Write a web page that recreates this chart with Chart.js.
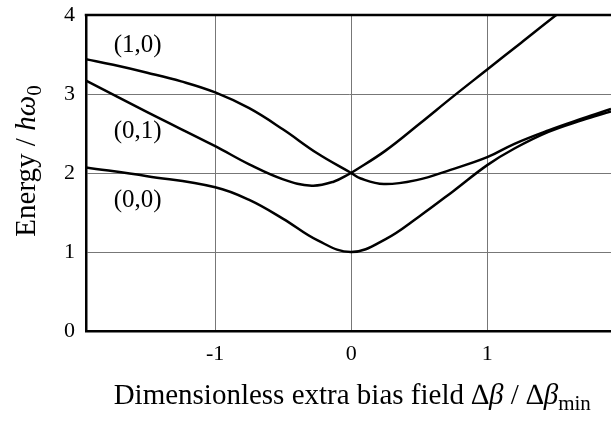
<!DOCTYPE html>
<html>
<head>
<meta charset="utf-8">
<script src="https://cdn.jsdelivr.net/npm/chart.js@4.4.1/dist/chart.umd.min.js"></script>
<style>
  html, body { margin: 0; padding: 0; background: #fff; overflow: hidden; }
  #wrap { width: 611px; height: 423px; }
</style>
</head>
<body>
<div id="wrap"><canvas id="c" width="611" height="423"></canvas></div>
<script>
'use strict';
/* Energy levels vs. extra bias field — three lowest states (0,0), (0,1), (1,0). */

const SERIF = '"Liberation Serif","Times New Roman",serif';

// x axis: dimensionless extra bias field, y: energy / hω0
const xTicks = [-1, 0, 1];
const yTicks = [0, 1, 2, 3, 4];

// (0,0) ground state
const x00 = [-1.95, -1.5, -1.0, -0.75, -0.5, -0.25, 0, 0.25, 0.5, 0.75, 1.0, 1.2, 1.45, 1.7, 1.91];
const e00 = [2.07, 1.96, 1.82, 1.66, 1.42, 1.15, 1.0, 1.16, 1.45, 1.77, 2.1, 2.31, 2.52, 2.67, 2.78];

// (0,1) — peaked at the degeneracy point (x=0 twice so the kink stays sharp)
const x01 = [-1.95, -1.5, -1.0, -0.75, -0.5, -0.29, -0.13, 0, 0, 0.07, 0.24, 0.48, 0.73, 1.0, 1.2, 1.45, 1.7, 1.91];
const e01 = [3.17, 2.77, 2.34, 2.11, 1.92, 1.84, 1.89, 2.0, 2.0, 1.93, 1.86, 1.91, 2.04, 2.2, 2.37, 2.54, 2.69, 2.81];

// (1,0)
const x10 = [-1.95, -1.75, -1.5, -1.25, -1.0, -0.75, -0.5, -0.25, 0, 0, 0.25, 0.5, 0.75, 1.0, 1.25, 1.5, 1.75, 1.91];
const e10 = [3.44, 3.37, 3.27, 3.16, 3.02, 2.82, 2.55, 2.25, 2.0, 2.0, 2.28, 2.62, 2.97, 3.31, 3.65, 3.99, 4.32, 4.53];

// state labels and where they sit (data coords)
const stateNames = ['(1,0)', '(0,1)', '(0,0)'];
const stateLabelX = [-1.57, -1.57, -1.57];
const stateLabelY = [3.62, 2.53, 1.65];

const pts = (xs, ys) => xs.map((x, i) => ({ x, y: ys[i] }));

function line(xs, ys) {
  return { data: pts(xs, ys), borderColor: '#000', borderWidth: 2.5, pointRadius: 0, tension: 0.4, fill: false };
}

// draws the top frame line, state labels and both axis titles (with sub/italic parts)
const decor = {
  id: 'decor',
  afterDraw(chart) {
    const { ctx, chartArea: a, scales: { x, y } } = chart;
    ctx.save();
    ctx.strokeStyle = '#000';
    ctx.lineWidth = 2.5;
    ctx.beginPath();
    ctx.moveTo(a.left - 1.25, a.top);
    ctx.lineTo(a.right, a.top);
    ctx.stroke();

    ctx.fillStyle = '#000';
    ctx.font = `25px ${SERIF}`;
    ctx.textAlign = 'center';
    ctx.textBaseline = 'middle';
    stateNames.forEach((s, i) => ctx.fillText(s, x.getPixelForValue(stateLabelX[i]), y.getPixelForValue(stateLabelY[i])));

    // x title: run of [text, font, dy]
    const big = `29px ${SERIF}`, it = `italic 29px ${SERIF}`, sub = `21px ${SERIF}`;
    const xRuns = [
      ['Dimensionless extra bias field ', big, 0],
      ['\u2206', big, 0], ['\u03b2', it, 0], [' / ', big, 0],
      ['\u2206', big, 0], ['\u03b2', it, 0], ['min', sub, 6],
    ];
    drawRuns(ctx, xRuns, x.getPixelForValue(0) + 1, 404);

    ctx.translate(35, 161);
    ctx.rotate(-Math.PI / 2);
    const yRuns = [['Energy / ', big, 0], ['h\u03c9', it, 0], ['0', sub, 6]];
    drawRuns(ctx, yRuns, 0, 0);
    ctx.restore();
  },
};

function drawRuns(ctx, runs, cx, baseY) {
  ctx.textAlign = 'left';
  ctx.textBaseline = 'alphabetic';
  let w = 0;
  runs.forEach(r => { ctx.font = r[1]; w += ctx.measureText(r[0]).width; });
  let px = cx - w / 2;
  runs.forEach(r => {
    ctx.font = r[1];
    ctx.fillText(r[0], px, baseY + r[2]);
    px += ctx.measureText(r[0]).width;
  });
}

const tickFont = { family: SERIF, size: 22 };

new Chart(document.getElementById('c'), {
  type: 'line',
  data: { datasets: [line(x10, e10), line(x01, e01), line(x00, e00)] },
  plugins: [decor],
  options: {
    responsive: false,
    animation: false,
    devicePixelRatio: 1,
    layout: { padding: { top: 15, left: 0, right: 0, bottom: 0 } },
    plugins: { legend: { display: false }, tooltip: { enabled: false } },
    scales: {
      x: {
        type: 'linear', min: -1.95, max: 1.91,
        afterFit: s => { s.height = 92; s.paddingLeft = 0; s.paddingRight = 0; },
        afterBuildTicks: s => { s.ticks = xTicks.map(v => ({ value: v })); },
        ticks: { font: tickFont, color: '#000', padding: 10, maxRotation: 0, autoSkip: false },
        grid: { color: '#777', lineWidth: 1, drawTicks: false },
        border: { color: '#000', width: 2.5 },
      },
      y: {
        type: 'linear', min: 0, max: 4,
        afterFit: s => { s.width = 86; s.paddingTop = 0; s.paddingBottom = 0; },
        afterBuildTicks: s => { s.ticks = yTicks.map(v => ({ value: v })); },
        ticks: { font: tickFont, color: '#000', padding: 11, autoSkip: false },
        grid: { color: '#777', lineWidth: 1, drawTicks: false },
        border: { color: '#000', width: 2.5 },
      },
    },
  },
});
</script>
</body>
</html>
